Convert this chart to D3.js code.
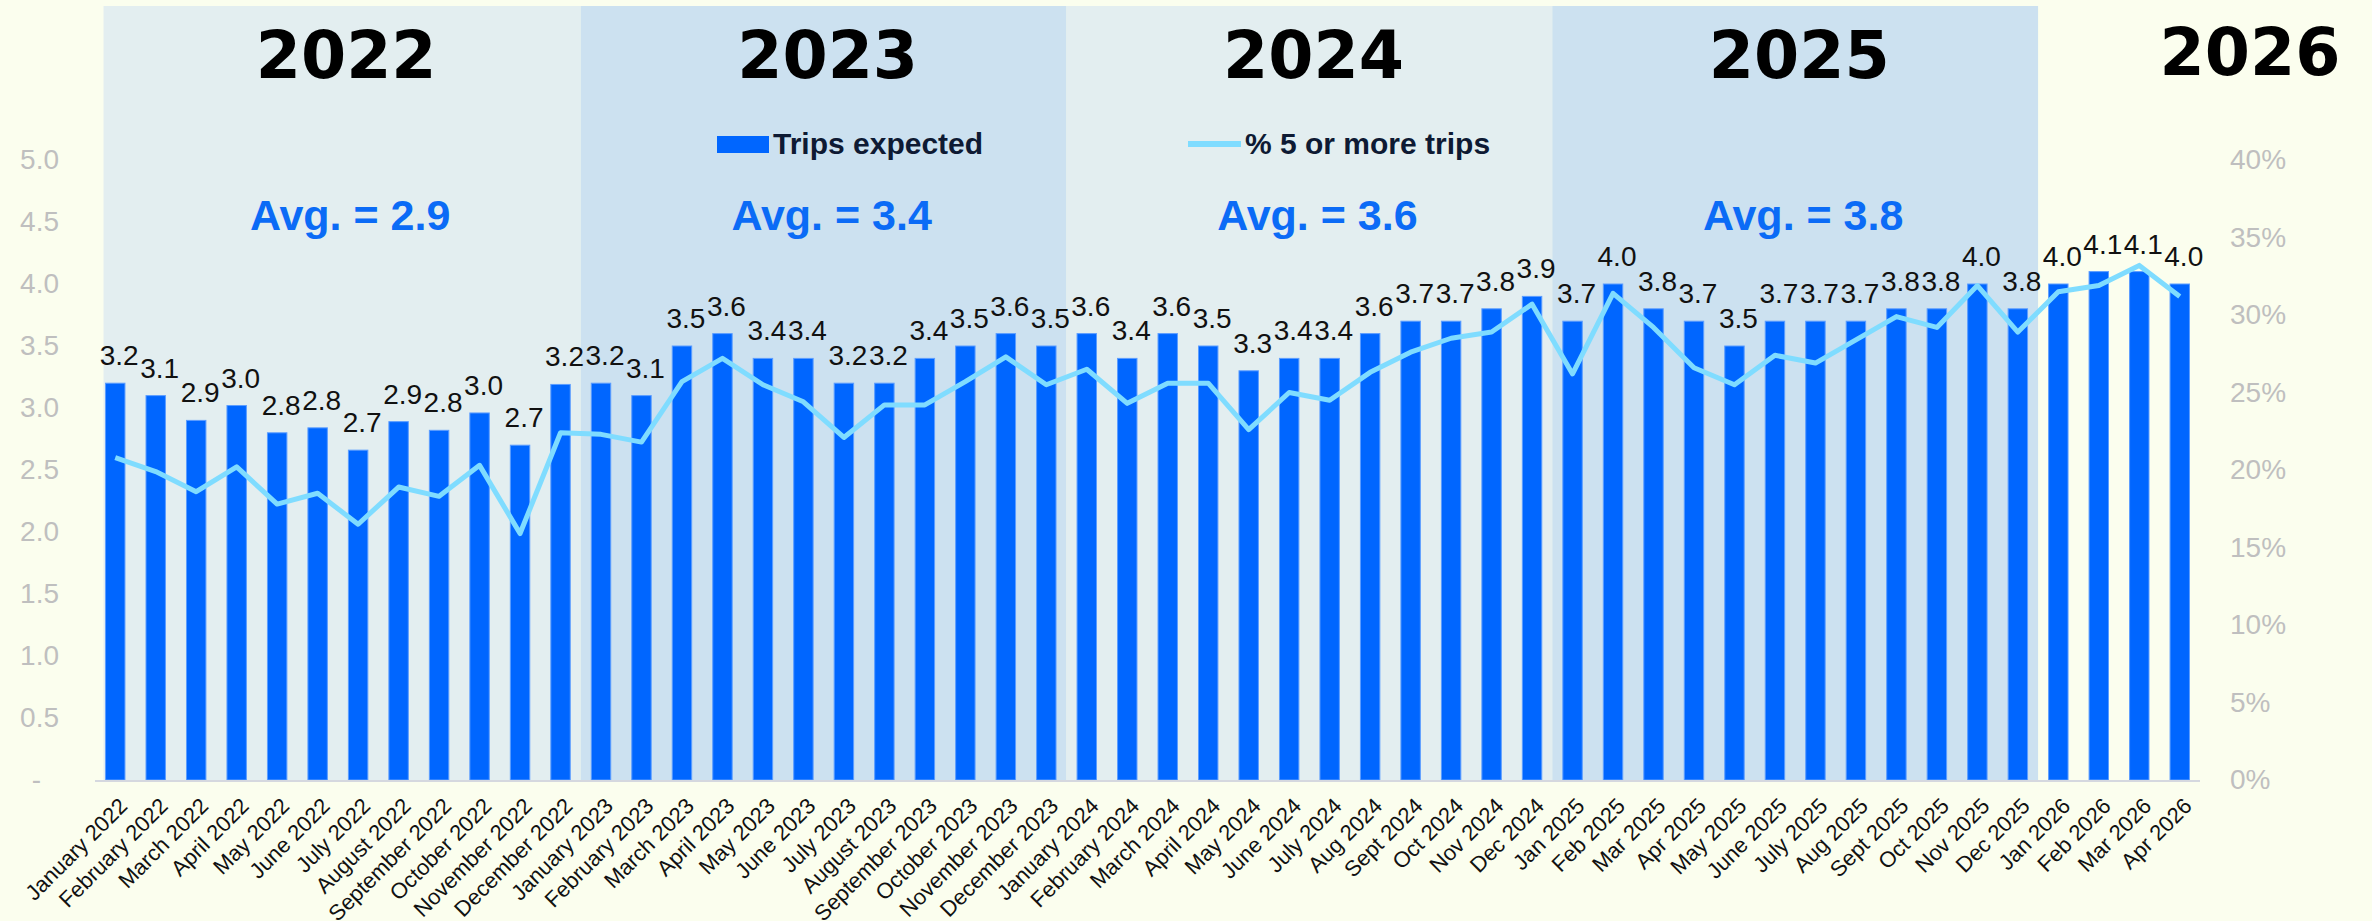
<!DOCTYPE html>
<html>
<head>
<meta charset="utf-8">
<script src="https://cdn.jsdelivr.net/npm/d3@7"></script>
<style>
  body { margin: 0; background: #fbfeee; }
  svg { display: block; }
</style>
</head>
<body>
<div id="chart"></div>
<script>
// months on the x axis
var months = [
  "January 2022", "February 2022", "March 2022", "April 2022", "May 2022", "June 2022",
  "July 2022", "August 2022", "September 2022", "October 2022", "November 2022", "December 2022",
  "January 2023", "February 2023", "March 2023", "April 2023", "May 2023", "June 2023",
  "July 2023", "August 2023", "September 2023", "October 2023", "November 2023", "December 2023",
  "January 2024", "February 2024", "March 2024", "April 2024", "May 2024", "June 2024",
  "July 2024", "Aug 2024", "Sept 2024", "Oct 2024", "Nov 2024", "Dec 2024",
  "Jan 2025", "Feb 2025", "Mar 2025", "Apr 2025", "May 2025", "June 2025",
  "July 2025", "Aug 2025", "Sept 2025", "Oct 2025", "Nov 2025", "Dec 2025",
  "Jan 2026", "Feb 2026", "Mar 2026", "Apr 2026"
];

// Trips expected (bars, left axis)
var trips = [
  3.2, 3.1, 2.9, 3.02, 2.8, 2.84, 2.66, 2.89, 2.82, 2.96, 2.7, 3.19,
  3.2, 3.1, 3.5, 3.6, 3.4, 3.4, 3.2, 3.2, 3.4, 3.5, 3.6, 3.5,
  3.6, 3.4, 3.6, 3.5, 3.3, 3.4, 3.4, 3.6, 3.7, 3.7, 3.8, 3.9,
  3.7, 4.0, 3.8, 3.7, 3.5, 3.7, 3.7, 3.7, 3.8, 3.8, 4.0, 3.8,
  4.0, 4.1, 4.1, 4.0
];

// % 5 or more trips (line, right axis)
var pctFive = [
  20.8, 19.9, 18.6, 20.2, 17.8, 18.5, 16.5, 18.9, 18.3, 20.3, 15.9, 22.4,
  22.3, 21.8, 25.7, 27.2, 25.5, 24.4, 22.1, 24.2, 24.2, 25.7, 27.3, 25.5,
  26.5, 24.3, 25.6, 25.6, 22.6, 25.0, 24.5, 26.3, 27.6, 28.5, 28.9, 30.7,
  26.2, 31.4, 29.2, 26.6, 25.5, 27.4, 26.9, 28.4, 29.9, 29.2, 31.9, 28.9,
  31.5, 31.9, 33.2, 31.2
];

var years = ["2022", "2023", "2024", "2025", "2026"];
var yearAvg = ["2.9", "3.4", "3.6", "3.8"];

var leftTicks = [0, 0.5, 1, 1.5, 2, 2.5, 3, 3.5, 4, 4.5, 5];
var rightTicks = [0, 5, 10, 15, 20, 25, 30, 35, 40];

var width = 2372, height = 921;
var margin = {top: 160, right: 172, bottom: 141, left: 95};

var svg = d3.select("#chart")
  .append("svg")
    .attr("width", width)
    .attr("height", height);

svg.append("rect")
  .attr("width", width)
  .attr("height", height)
  .attr("fill", "#fbfeee");

var x = d3.scaleBand()
  .domain(months)
  .range([margin.left, width - margin.right])
  .paddingInner(0.52)
  .paddingOuter(0.26);

var y = d3.scaleLinear()
  .domain([0, 5])
  .range([height - margin.bottom, margin.top]);

var y2 = d3.scaleLinear()
  .domain([0, 40])
  .range([height - margin.bottom, margin.top]);

var gap = x.step() - x.bandwidth();
var baseY = y(0);

// year shading panels
var panelColors = ["#e3eef0", "#cce1f0"];
var panels = years.slice(0, 4).map(function(yr, i) {
  var first = months[i * 12], last = months[i * 12 + 11];
  var x0 = i === 0 ? x(first) - 2 : x(first) - gap / 2;
  var x1 = x(last) + x.bandwidth() + gap / 2;
  return {year: yr, x0: x0, x1: x1, avg: yearAvg[i]};
});

svg.selectAll(".panel")
  .data(panels)
  .enter().append("rect")
    .attr("class", "panel")
    .attr("x", function(d) { return d.x0; })
    .attr("y", 6)
    .attr("width", function(d) { return d.x1 - d.x0; })
    .attr("height", baseY - 6)
    .attr("fill", function(d, i) { return panelColors[i % 2]; });

// year titles
svg.selectAll(".yearLabel")
  .data(panels)
  .enter().append("text")
    .attr("class", "yearLabel")
    .attr("x", function(d) { return (d.x0 + d.x1) / 2 + 4; })
    .attr("y", 78)
    .attr("text-anchor", "middle")
    .attr("font-family", "DejaVu Sans")
    .attr("font-weight", "bold")
    .attr("font-size", 65)
    .attr("fill", "#000")
    .text(function(d) { return d.year; });

svg.append("text")
  .attr("x", width - margin.right + 50)
  .attr("y", 75)
  .attr("text-anchor", "middle")
  .attr("font-family", "DejaVu Sans")
  .attr("font-weight", "bold")
  .attr("font-size", 65)
  .attr("fill", "#000")
  .text(years[4]);

// averages
svg.selectAll(".avgLabel")
  .data(panels)
  .enter().append("text")
    .attr("class", "avgLabel")
    .attr("x", function(d) { return (d.x0 + d.x1) / 2 + 8; })
    .attr("y", 230)
    .attr("text-anchor", "middle")
    .attr("font-family", "Liberation Sans, Arial, sans-serif")
    .attr("font-weight", "bold")
    .attr("font-size", 43)
    .attr("fill", "#0b6bf6")
    .text(function(d) { return "Avg. = " + d.avg; });

// left axis
var leftAxis = svg.append("g")
  .attr("transform", "translate(" + (margin.left - 36) + ",0)")
  .call(d3.axisLeft(y).tickValues(leftTicks).tickSize(0).tickPadding(0)
    .tickFormat(function(d) { return d === 0 ? "-" : d3.format(".1f")(d); }));
leftAxis.select(".domain").remove();
leftAxis.selectAll("text")
  .attr("font-family", "Liberation Sans, Arial, sans-serif")
  .attr("font-size", 28)
  .attr("fill", "#bfbfbf")
  .attr("dx", function(d) { return d === 0 ? -18 : 0; });

// right axis
var rightAxis = svg.append("g")
  .attr("transform", "translate(" + (width - margin.right + 30) + ",0)")
  .call(d3.axisRight(y2).tickValues(rightTicks).tickSize(0).tickPadding(0)
    .tickFormat(function(d) { return d + "%"; }));
rightAxis.select(".domain").remove();
rightAxis.selectAll("text")
  .attr("font-family", "Liberation Sans, Arial, sans-serif")
  .attr("font-size", 28)
  .attr("fill", "#bfbfbf");

// bars
svg.selectAll(".bar")
  .data(trips)
  .enter().append("rect")
    .attr("class", "bar")
    .attr("x", function(d, i) { return x(months[i]); })
    .attr("y", function(d) { return y(d); })
    .attr("width", x.bandwidth())
    .attr("height", function(d) { return baseY - y(d); })
    .attr("fill", "#0066ff")
    .attr("stroke", "#5c9dff")
    .attr("stroke-width", 1);

// baseline
svg.append("line")
  .attr("x1", margin.left)
  .attr("x2", width - margin.right)
  .attr("y1", baseY + 1)
  .attr("y2", baseY + 1)
  .attr("stroke", "#d5d8df")
  .attr("stroke-width", 2);

// x labels
var xAxis = svg.append("g")
  .attr("transform", "translate(0," + baseY + ")")
  .call(d3.axisBottom(x).tickSize(0).tickPadding(0));
xAxis.select(".domain").remove();
xAxis.selectAll("text")
  .attr("font-family", "Liberation Sans, Arial, sans-serif")
  .attr("font-size", 22)
  .attr("fill", "#111")
  .attr("text-anchor", "end")
  .attr("transform", "translate(8,22) rotate(-45)")
  .attr("dy", "0.35em");

// line
var line = d3.line()
  .x(function(d, i) { return x(months[i]) + x.bandwidth() / 2; })
  .y(function(d) { return y2(d); });

svg.append("path")
  .datum(pctFive)
  .attr("d", line)
  .attr("fill", "none")
  .attr("stroke", "#7fdcff")
  .attr("stroke-width", 5)
  .attr("stroke-linejoin", "round");

// value labels
svg.selectAll(".valLabel")
  .data(trips)
  .enter().append("text")
    .attr("class", "valLabel")
    .attr("x", function(d, i) { return x(months[i]) + x.bandwidth() / 2 + 4; })
    .attr("y", function(d) { return y(d) - 18; })
    .attr("text-anchor", "middle")
    .attr("font-family", "Liberation Sans, Arial, sans-serif")
    .attr("font-size", 28)
    .attr("fill", "#111")
    .text(function(d) { return d3.format(".1f")(d); });

// legend
var legend = svg.append("g").attr("class", "legend");
legend.append("rect")
  .attr("x", 717).attr("y", 136)
  .attr("width", 52).attr("height", 17)
  .attr("fill", "#0066ff");
legend.append("text")
  .attr("x", 773).attr("y", 154)
  .attr("font-family", "Liberation Sans, Arial, sans-serif")
  .attr("font-weight", "bold")
  .attr("font-size", 30)
  .attr("fill", "#0e1a33")
  .text("Trips expected");
legend.append("line")
  .attr("x1", 1188).attr("x2", 1241)
  .attr("y1", 144).attr("y2", 144)
  .attr("stroke", "#7fdcff")
  .attr("stroke-width", 6);
legend.append("text")
  .attr("x", 1245).attr("y", 154)
  .attr("font-family", "Liberation Sans, Arial, sans-serif")
  .attr("font-weight", "bold")
  .attr("font-size", 30)
  .attr("fill", "#0e1a33")
  .text("% 5 or more trips");
</script>
</body>
</html>
